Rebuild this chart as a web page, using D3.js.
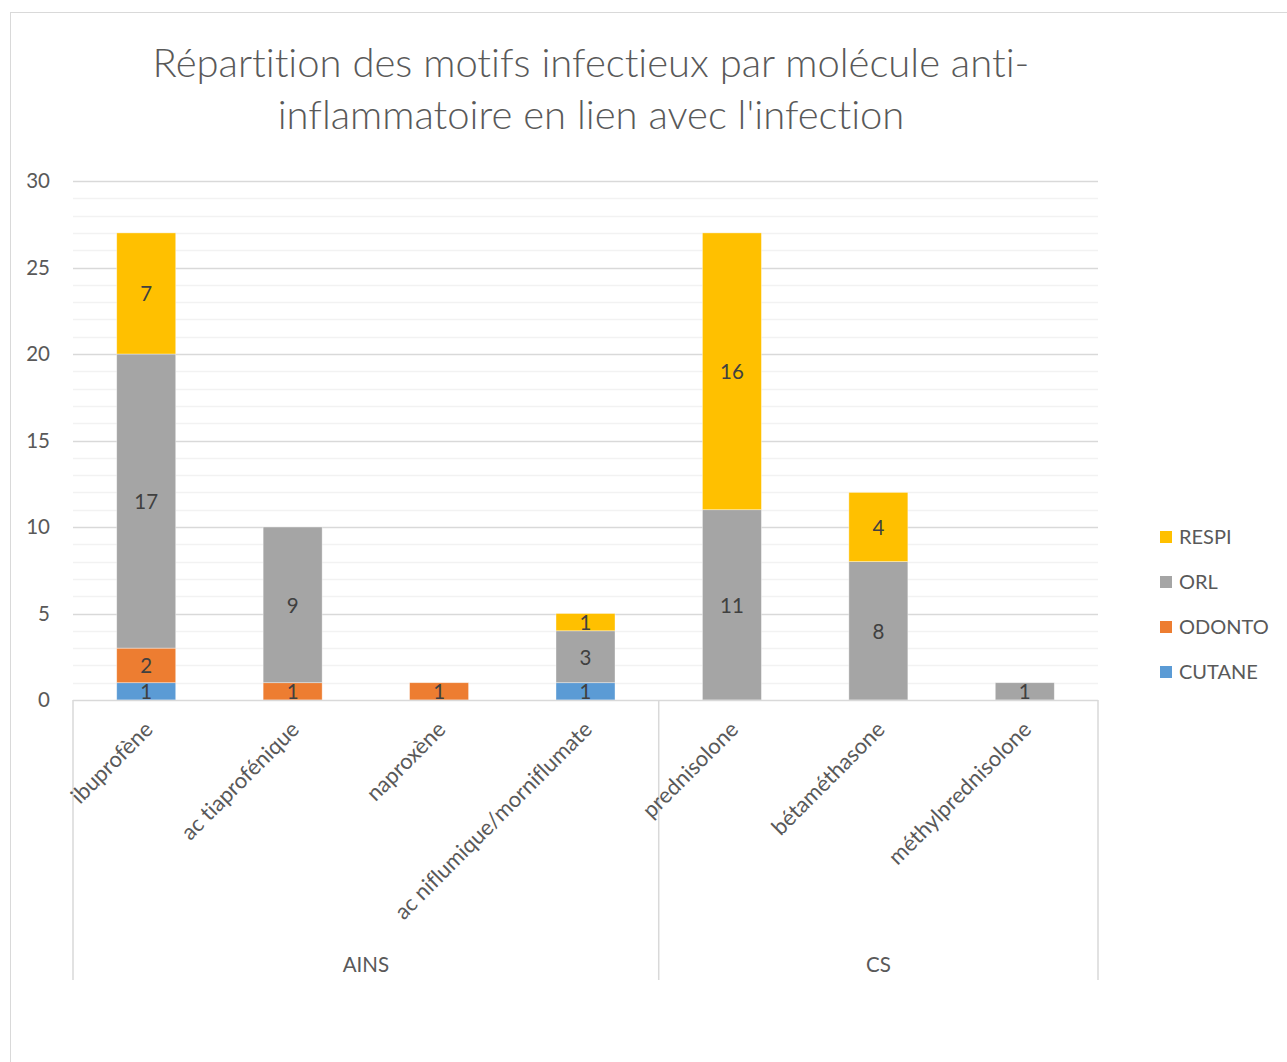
<!DOCTYPE html>
<html>
<head>
<meta charset="utf-8">
<script src="https://cdn.jsdelivr.net/npm/d3@7"></script>
<style>
html,body{margin:0;padding:0;background:#fff;}
text{font-family:Lato,"Open Sans",sans-serif;font-variant-ligatures:none;}
</style>
</head>
<body>
<svg id="chart" width="1287" height="1062"></svg>
<script>
const categories = ["ibuprofène","ac tiaprofénique","naproxène","ac niflumique/morniflumate","prednisolone","bétaméthasone","méthylprednisolone"];
const groups = [{name:"AINS", start:0, end:4},{name:"CS", start:4, end:7}];
const seriesNames = ["CUTANE","ODONTO","ORL","RESPI"];
const cutane = [1,0,0,1,0,0,0];
const odonto = [2,1,1,0,0,0,0];
const orl    = [17,9,0,3,11,8,1];
const respi  = [7,0,0,1,16,4,0];
const seriesColors = ["#5B9BD5","#ED7D31","#A5A5A5","#FFC000"];
const yTicks = [0,5,10,15,20,25,30];
const titleLines = ["Répartition des motifs infectieux par molécule anti-","inflammatoire en lien avec l'infection"];

(function(){
const svg = d3.select("#chart");
svg.append("rect").attr("x",10.5).attr("y",12.5).attr("width",1300).attr("height",1100)
  .attr("fill","#fff").attr("stroke","#d9d9d9").attr("stroke-width",1);

const pL=73, pR=1098, pT=181, pB=700;
const y = d3.scaleLinear().domain([0,30]).range([pB,pT]);
const x = d3.scaleBand().domain(categories).range([pL,pR]).paddingInner(0.597).paddingOuter(0.2985);
const stepW = (pR-pL)/categories.length;

// minor gridlines
svg.append("g").selectAll("line").data(d3.range(1,31).filter(v=>v%5!==0)).join("line")
  .attr("x1",pL).attr("x2",pR).attr("y1",d=>Math.round(y(d))+0.5).attr("y2",d=>Math.round(y(d))+0.5)
  .attr("stroke","#f2f2f2").attr("stroke-width",1.5);
// major gridlines
svg.append("g").selectAll("line").data(yTicks.filter(v=>v>0)).join("line")
  .attr("x1",pL).attr("x2",pR).attr("y1",d=>Math.round(y(d))+0.5).attr("y2",d=>Math.round(y(d))+0.5)
  .attr("stroke","#d9d9d9").attr("stroke-width",1.5);

// y tick labels
svg.append("g").selectAll("text").data(yTicks).join("text")
  .attr("x",50).attr("y",d=>y(d)).attr("dy","0.36em").attr("text-anchor","end")
  .attr("font-size",20.5).attr("fill","#595959").text(d=>d);

// stacked data
const table = categories.map((c,i)=>({cat:c, CUTANE:cutane[i], ODONTO:odonto[i], ORL:orl[i], RESPI:respi[i]}));
const stacked = d3.stack().keys(seriesNames)(table);
const color = d3.scaleOrdinal().domain(seriesNames).range(seriesColors);

stacked.forEach(s=>{
  const g = svg.append("g");
  g.selectAll("rect").data(s.filter(d=>d[1]-d[0]>0)).join("rect")
    .attr("x",d=>x(d.data.cat)).attr("width",x.bandwidth())
    .attr("y",d=>y(d[1])).attr("height",d=>y(d[0])-y(d[1]))
    .attr("fill",color(s.key)).attr("stroke","#fff").attr("stroke-opacity",0.5).attr("stroke-width",0.75);
});
stacked.forEach(s=>{
  svg.append("g").selectAll("text").data(s.filter(d=>d[1]-d[0]>0)).join("text")
    .attr("x",d=>x(d.data.cat)+x.bandwidth()/2).attr("y",d=>(y(d[0])+y(d[1]))/2)
    .attr("dy","0.38em").attr("text-anchor","middle").attr("font-size",20.5).attr("fill","#404040")
    .text(d=>d[1]-d[0]);
});

// axis line
svg.append("line").attr("x1",pL).attr("x2",pR).attr("y1",pB+0.5).attr("y2",pB+0.5)
  .attr("stroke","#d9d9d9").attr("stroke-width",1.5);
// group separators
svg.append("g").selectAll("line").data([0,...groups.map(g=>g.end)]).join("line")
  .attr("x1",d=>pL+d*stepW).attr("x2",d=>pL+d*stepW).attr("y1",pB).attr("y2",980)
  .attr("stroke","#d9d9d9").attr("stroke-width",1.5);

// category labels
svg.append("g").selectAll("text").data(categories).join("text")
  .attr("transform",d=>`translate(${x(d)+x.bandwidth()/2-3},${720}) rotate(-45)`)
  .attr("text-anchor","end").attr("dy","0.7em").attr("font-size",22).attr("fill","#595959").text(d=>d);

// group labels
svg.append("g").selectAll("text").data(groups).join("text")
  .attr("x",d=>pL+(d.start+d.end)/2*stepW).attr("y",972).attr("text-anchor","middle")
  .attr("font-size",20.5).attr("fill","#595959").text(d=>d.name);

// title
svg.append("g").selectAll("text").data(titleLines).join("text")
  .attr("x",591).attr("y",(d,i)=>77+i*52).attr("text-anchor","middle")
  .attr("font-size",40).attr("font-weight",300).attr("fill","#595959").text(d=>d);

// legend
const legendOrder = ["RESPI","ORL","ODONTO","CUTANE"];
const lg = svg.append("g").selectAll("g").data(legendOrder).join("g")
  .attr("transform",(d,i)=>`translate(1160,${537+i*45})`);
lg.append("rect").attr("x",0).attr("y",-6).attr("width",12).attr("height",12).attr("fill",d=>color(d));
lg.append("text").attr("x",19).attr("y",0).attr("dy","0.36em").attr("font-size",20).attr("fill","#595959").text(d=>d);
})();
</script>
</body>
</html>
